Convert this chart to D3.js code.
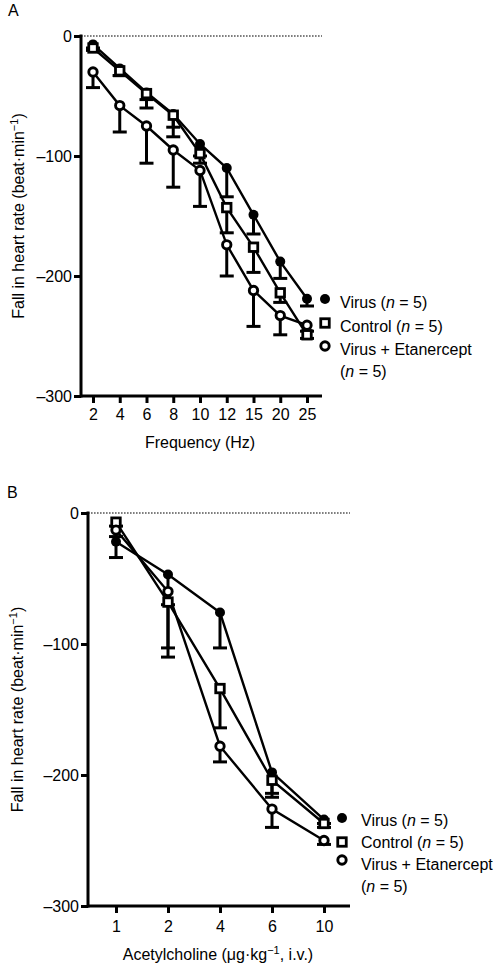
<!DOCTYPE html>
<html>
<head>
<meta charset="utf-8">
<script src="https://cdn.jsdelivr.net/npm/d3@7"></script>
<style>
  body { margin: 0; background: #fff; }
  svg { display: block; font-family: "Liberation Sans", Arial, Helvetica, sans-serif; }
</style>
</head>
<body>
<svg id="chart" width="500" height="965"></svg>
<script>
// ---------- DATA ----------
const yTicks = [0, -100, -200, -300];

// Panel A: frequency response
const freqCats = ["2", "4", "6", "8", "10", "12", "15", "20", "25"];
const freqVirus      = [-7, -27, -47, -65, -90, -110, -149, -188, -219];
const freqVirusErr   = [3, 6, 13, 19, 10, 24, 16, 14, 6];
const freqControl    = [-10, -29, -48, -66, -98, -143, -176, -214, -249];
const freqControlErr = [2, 4, 5, 10, 8, 21, 21, 8, 3];
const freqEtan       = [-30, -58, -75, -95, -112, -174, -212, -233, -241];
const freqEtanErr    = [13, 22, 31, 31, 30, 26, 30, 16, 5];

// Panel B: acetylcholine dose response
const achCats = ["1", "2", "4", "6", "10"];
const achVirus      = [-22, -47, -76, -198, -234];
const achVirusErr   = [12, 56, 27, 19, 3];
const achControl    = [-7, -68, -134, -204, -237];
const achControlErr = [3, 42, 30, 10, 3];
const achEtan       = [-13, -60, -178, -226, -250];
const achEtanErr    = [5, 10, 12, 14, 3];

const seriesNames = ["Virus", "Control", "Virus + Etanercept"];
const seriesN = [5, 5, 5];

// ---------- DRAW ----------
const svg = d3.select("#chart");
const FS = 16;

function marker(g, type, x, y) {
  if (type === 0) {
    g.append("circle").attr("cx", x).attr("cy", y).attr("r", 5).attr("fill", "#000");
  } else if (type === 1) {
    const s = 8.5;
    g.append("rect").attr("x", x - s / 2).attr("y", y - s / 2).attr("width", s).attr("height", s)
      .attr("fill", "#fff").attr("stroke", "#000").attr("stroke-width", 2.8);
  } else {
    g.append("circle").attr("cx", x).attr("cy", y).attr("r", 4.2)
      .attr("fill", "#fff").attr("stroke", "#000").attr("stroke-width", 2.9);
  }
}

function drawPanel(p) {
  const g = svg.append("g");
  const x = d3.scalePoint().domain(p.cats).range(p.xRange);
  const y = d3.scaleLinear().domain([-300, 0]).range(p.yRange);

  // panel letter
  g.append("text").attr("x", p.letterX).attr("y", p.letterY).attr("font-size", FS).text(p.letter);

  // dotted zero line
  g.append("line").attr("x1", p.axisX).attr("x2", p.axisEnd)
    .attr("y1", y(0)).attr("y2", y(0))
    .attr("stroke", "#000").attr("stroke-width", 1.2).attr("stroke-dasharray", "1.6,1.4");

  // y axis
  const yAx = g.append("g").attr("transform", `translate(${p.axisX},0)`)
    .call(d3.axisLeft(y).tickValues(yTicks).tickSize(7).tickPadding(2)
      .tickFormat(d => d === 0 ? "0" : "\u2013" + Math.abs(d)));
  yAx.select(".domain").remove();
  yAx.selectAll(".tick line").attr("stroke-width", 3);
  yAx.selectAll(".tick text").attr("font-size", FS).attr("font-family", null).attr("fill", "#000");

  // x axis
  const xAx = g.append("g").attr("transform", `translate(0,${y(-300)})`)
    .call(d3.axisBottom(x).tickSize(7).tickPadding(p.xTickPad));
  xAx.select(".domain").remove();
  xAx.selectAll(".tick line").attr("stroke-width", 3);
  xAx.selectAll(".tick text").attr("font-size", FS).attr("font-family", null).attr("fill", "#000");

  // axis lines
  g.append("line").attr("x1", p.axisX).attr("x2", p.axisX).attr("y1", y(0) - 1.5).attr("y2", y(-300) + 1.5)
    .attr("stroke", "#000").attr("stroke-width", 3);
  g.append("line").attr("x1", p.axisX).attr("x2", p.axisEnd).attr("y1", y(-300)).attr("y2", y(-300))
    .attr("stroke", "#000").attr("stroke-width", 3);

  // axis titles
  const yt = g.append("text").attr("font-size", FS).attr("text-anchor", "middle")
    .attr("transform", `translate(${p.yTitleX},${(y(0) + y(-300)) / 2}) rotate(-90)`);
  yt.append("tspan").text("Fall in heart rate (beat\u00b7min");
  yt.append("tspan").attr("font-size", 11).attr("dy", -6).text("\u22121");
  yt.append("tspan").attr("dy", 6).text(")");

  const xt = g.append("text").attr("font-size", FS).attr("text-anchor", "middle")
    .attr("x", p.xTitleX).attr("y", p.xTitleY);
  p.xTitle(xt);

  const series = p.series;
  // lines
  series.forEach(s => {
    g.append("path").datum(s.vals)
      .attr("fill", "none").attr("stroke", "#000").attr("stroke-width", 2.4)
      .attr("d", d3.line().x((d, i) => x(p.cats[i])).y(d => y(d)));
  });
  // error bars (one-sided, away from zero)
  series.forEach(s => {
    s.vals.forEach((v, i) => {
      const cx = x(p.cats[i]);
      const y1 = y(v), y2 = y(v - s.err[i]);
      g.append("line").attr("x1", cx).attr("x2", cx).attr("y1", y1).attr("y2", y2)
        .attr("stroke", "#000").attr("stroke-width", 3);
      g.append("line").attr("x1", cx - 7).attr("x2", cx + 7).attr("y1", y2).attr("y2", y2)
        .attr("stroke", "#000").attr("stroke-width", 3);
    });
  });
  // markers
  series.forEach((s, k) => {
    s.vals.forEach((v, i) => marker(g, k, x(p.cats[i]), y(v)));
  });

  // legend
  seriesNames.forEach((name, k) => {
    marker(g, k, p.legMarkX, p.legMarkY[k]);
    const t = g.append("text").attr("font-size", FS).attr("x", p.legTextX).attr("y", p.legBase[k]);
    if (k < 2) {
      t.append("tspan").text(name + " (");
      t.append("tspan").attr("font-style", "italic").text("n");
      t.append("tspan").text(" = " + seriesN[k] + ")");
    } else {
      t.append("tspan").text(name);
      const t2 = g.append("text").attr("font-size", FS).attr("x", p.legTextX).attr("y", p.legBase[3]);
      t2.append("tspan").text("(");
      t2.append("tspan").attr("font-style", "italic").text("n");
      t2.append("tspan").text(" = " + seriesN[k] + ")");
    }
  });
}

drawPanel({
  letter: "A", letterX: 8, letterY: 16,
  cats: freqCats, xRange: [93, 307], yRange: [396, 36],
  axisX: 81, axisEnd: 322, xTickPad: 6,
  yTitleX: 24, xTitleX: 200, xTitleY: 448,
  xTitle: t => t.text("Frequency (Hz)"),
  series: [
    { vals: freqVirus, err: freqVirusErr },
    { vals: freqControl, err: freqControlErr },
    { vals: freqEtan, err: freqEtanErr }
  ],
  legMarkX: 325, legMarkY: [299, 323, 346],
  legTextX: 340, legBase: [308, 332, 355, 377]
});

drawPanel({
  letter: "B", letterX: 7, letterY: 498,
  cats: achCats, xRange: [116, 324], yRange: [906, 513],
  axisX: 88, axisEnd: 350, xTickPad: 8,
  yTitleX: 23, xTitleX: 218, xTitleY: 960,
  xTitle: t => {
    t.append("tspan").text("Acetylcholine (\u03bcg\u00b7kg");
    t.append("tspan").attr("font-size", 11).attr("dy", -6).text("\u22121");
    t.append("tspan").attr("dy", 6).text(", i.v.)");
  },
  series: [
    { vals: achVirus, err: achVirusErr },
    { vals: achControl, err: achControlErr },
    { vals: achEtan, err: achEtanErr }
  ],
  legMarkX: 342, legMarkY: [818, 842, 860],
  legTextX: 361, legBase: [826, 848, 870, 892]
});
</script>
</body>
</html>
